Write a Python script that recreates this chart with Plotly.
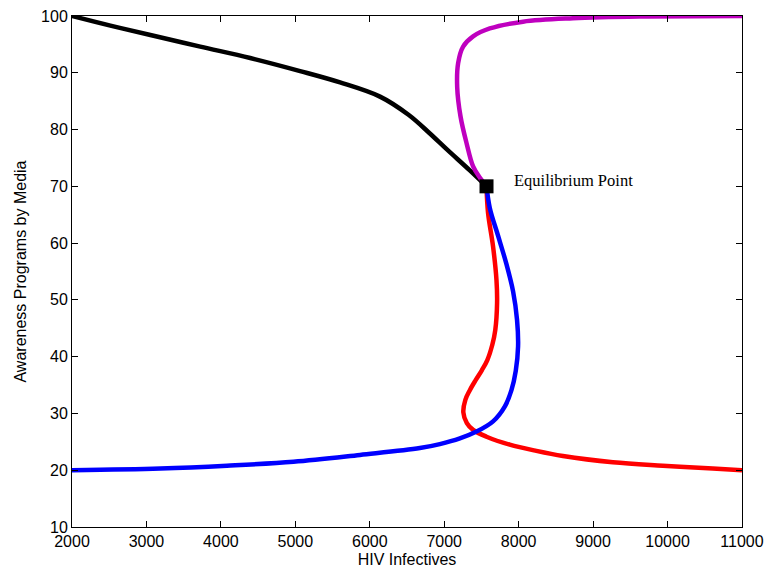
import plotly.graph_objects as go

# Black trajectory (from (2000,100) to equilibrium)
black_x = [2000, 2516, 3053, 3723, 4394, 5064, 5601, 6137, 6520, 6800, 7036, 7344, 7568]
black_y = [100, 98.3, 96.65, 94.6, 92.6, 90.3, 88.3, 85.8, 82.6, 79.4, 76.5, 72.8, 70]

# Magenta trajectory (from (11000,100) to equilibrium)
magenta_x = [11000, 9624, 8729, 8059, 7612, 7388, 7254, 7187, 7174, 7219, 7300, 7388, 7480, 7568]
magenta_y = [100, 99.9, 99.6, 99.0, 97.8, 96.4, 94.6, 91.7, 87.5, 82.3, 77.6, 73.5, 71.5, 70]

# Red trajectory (from (11000,20) to equilibrium)
red_x = [11000, 10607, 9936, 9266, 8595, 8238, 7880, 7568, 7388, 7304, 7257, 7284, 7344, 7424, 7505, 7579, 7646, 7686, 7710, 7702, 7656, 7589, 7568]
red_y = [20.0, 20.3, 20.8, 21.4, 22.5, 23.4, 24.5, 25.9, 27.1, 28.3, 30.2, 32.4, 34.1, 35.9, 37.6, 39.4, 42.1, 44.7, 49.5, 53.5, 59.4, 65.3, 70]

# Blue trajectory (from (2000,20) to equilibrium)
blue_x = [2000, 3187, 4081, 4975, 5869, 6673, 6941, 7210, 7434, 7656, 7813, 7903, 7961, 7992, 7978, 7925, 7836, 7723, 7612, 7568]
blue_y = [20.0, 20.3, 20.8, 21.5, 22.7, 23.9, 24.6, 25.6, 26.8, 28.6, 31.2, 34.1, 37.5, 41.8, 46.5, 51.5, 56.3, 61.3, 66.2, 70]

eq_x = [7568]
eq_y = [70]

x_ticks = [2000, 3000, 4000, 5000, 6000, 7000, 8000, 9000, 10000, 11000]
y_ticks = [10, 20, 30, 40, 50, 60, 70, 80, 90, 100]

fig = go.Figure()
for xs, ys, col in [(black_x, black_y, "#000000"),
                    (magenta_x, magenta_y, "#BF00BF"),
                    (red_x, red_y, "#FF0000"),
                    (blue_x, blue_y, "#0000FF")]:
    fig.add_trace(go.Scatter(x=xs, y=ys, mode="lines",
                             line=dict(color=col, width=4.5, shape="spline", smoothing=1.0),
                             showlegend=False, hoverinfo="skip"))
fig.add_trace(go.Scatter(x=eq_x, y=eq_y, mode="markers",
                         marker=dict(symbol="square", size=14, color="black"),
                         showlegend=False))

fig.add_annotation(x=7917, y=71, text="Equilibrium Point", showarrow=False,
                   xanchor="left", yanchor="middle",
                   font=dict(family="Liberation Serif, Times New Roman, serif", size=16.5, color="black"))

axis_common = dict(showgrid=False, zeroline=False, showline=True, linecolor="black",
                   linewidth=1, mirror="allticks", ticks="inside", ticklen=6,
                   tickcolor="black", tickwidth=1,
                   tickfont=dict(family="Liberation Sans, Arial, sans-serif", size=16, color="black"))

fig.update_xaxes(range=[2000, 11000], tickvals=x_ticks, ticktext=[str(v) for v in x_ticks],
                 title=dict(text="HIV Infectives", standoff=4,
                            font=dict(family="Liberation Sans, Arial, sans-serif", size=16, color="black")),
                 **axis_common)
fig.update_yaxes(range=[10, 100], tickvals=y_ticks, ticktext=[str(v) for v in y_ticks],
                 title=dict(text="Awareness Programs by Media", standoff=10,
                            font=dict(family="Liberation Sans, Arial, sans-serif", size=16, color="black")),
                 **axis_common)

fig.update_layout(width=767, height=572, margin=dict(l=72, r=25, t=16, b=45, autoexpand=False),
                  paper_bgcolor="white", plot_bgcolor="white")

fig.write_html("out.html")
